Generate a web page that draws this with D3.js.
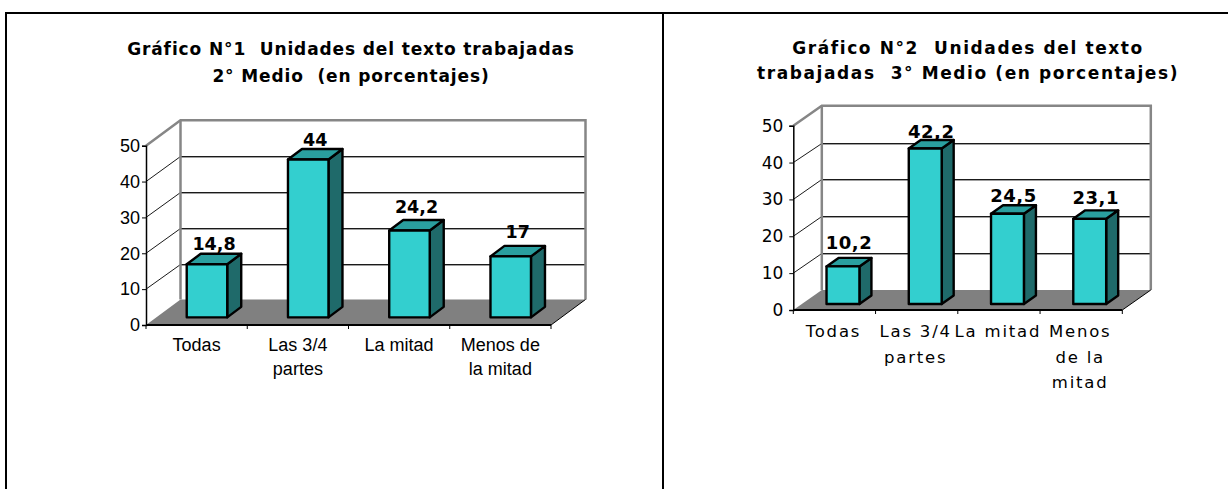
<!DOCTYPE html>
<html><head><meta charset="utf-8">
<script src="https://cdn.jsdelivr.net/npm/d3@7/dist/d3.min.js"></script>
<style>html,body{margin:0;padding:0;background:#fff}svg{display:block}</style>
</head><body>
<svg id="c" width="1228" height="489"></svg>
<script>
const categories1 = [["Todas"],["Las 3/4","partes"],["La mitad"],["Menos de","la mitad"]];
const values1 = [14.8,44,24.2,17];
const labels1 = ["14,8","44","24,2","17"];
const title1 = ["Gráfico N°1  Unidades del texto trabajadas","2° Medio  (en porcentajes)"];
const categories2 = [["Todas"],["Las 3/4","partes"],["La mitad"],["Menos","de la","mitad"]];
const values2 = [10.2,42.2,24.5,23.1];
const labels2 = ["10,2","42,2","24,5","23,1"];
const title2 = ["Gráfico N°2  Unidades del texto","trabajadas  3° Medio (en porcentajes)"];
const yTicks = [0,10,20,30,40,50];

const svg = d3.select("#c");
// frame
svg.append("g").attr("stroke","#000").attr("stroke-width",2).selectAll("line").data([
 [5,13,1228,13],[6,12,6,489],[663,13,663,489]
]).join("line").attr("x1",d=>d[0]).attr("y1",d=>d[1]).attr("x2",d=>d[2]).attr("y2",d=>d[3]);

function chart(o){
  const g = svg.append("g");
  const x = d3.scaleBand().domain(d3.range(o.values.length)).range([o.x0,o.x1]);
  const y = d3.scaleLinear().domain([0,50]).range([o.y0,o.y50]);
  const dx=o.dx, dy=o.dy;
  const poly=(pts,fill)=>g.append("polygon").attr("points",pts.map(p=>p.join(",")).join(" ")).attr("fill",fill);
  // floor
  poly([[o.x0,o.y0],[o.x1,o.y0],[o.x1+dx,o.y0-dy],[o.x0+dx,o.y0-dy]],"#808080");
  // gridlines
  const grid=[10,20,30,40];
  g.append("g").selectAll("line").data(grid).join("line")
    .attr("stroke","#a0a0a0").attr("stroke-width",1)
    .attr("x1",o.x0+dx).attr("x2",o.x1+dx).attr("y1",v=>Math.round(y(v)-dy)+1.5).attr("y2",v=>Math.round(y(v)-dy)+1.5);
  g.append("g").selectAll("path").data(grid).join("path")
    .attr("fill","none").attr("stroke","#1a1a1a").attr("stroke-width",1)
    .attr("d",v=>`M${o.x0},${y(v)}L${o.x0+dx},${Math.round(y(v)-dy)+.5}L${o.x1+dx},${Math.round(y(v)-dy)+.5}`);
  // wall edges
  g.append("path").attr("fill","none").attr("stroke","#868686").attr("stroke-width",2.5)
    .attr("d",`M${o.x0},${y(50)}L${o.x0+dx},${y(50)-dy}L${o.x1+dx},${y(50)-dy}L${o.x1+dx},${o.y0-dy}`);
  g.append("path").attr("fill","none").attr("stroke","#868686").attr("stroke-width",2.5)
    .attr("d",`M${o.x0+dx},${y(50)-dy}V${o.y0-dy}`);
  g.append("path").attr("fill","none").attr("stroke","#000").attr("stroke-width",1)
    .attr("d",`M${o.x1},${o.y0}L${o.x1+dx},${o.y0-dy}`);
  // axes
  const ax=g.append("g").attr("transform",`translate(${o.x0},0)`)
    .call(d3.axisLeft(y).tickValues(yTicks).tickSize(4).tickPadding(o.tickPad));
  ax.selectAll("text").attr("font-family",o.font).attr("font-size",o.axisSize).attr("fill","#000");
  ax.selectAll("line,path").attr("stroke","#000");
  ax.select("path").attr("stroke-width",1.5);
  const ticks=[...x.domain().map(i=>x(i)),o.x1];
  g.append("path").attr("stroke","#000").attr("stroke-width",2).attr("d",`M${o.x0},${o.y0}H${o.x1}`);
  g.append("g").selectAll("line").data(ticks).join("line").attr("stroke","#000")
    .attr("x1",d=>d).attr("x2",d=>d).attr("y1",o.y0).attr("y2",o.y0+4);
  // bars
  const bw=x.bandwidth()*o.barFrac, shiftX=dx*o.depthPos, shiftY=dy*o.depthPos;
  o.values.forEach((v,i)=>{
    const l=x(i)+x.bandwidth()/2-bw/2+shiftX, r=l+bw, b=o.y0-shiftY, t=y(v)-shiftY;
    const bar=g.append("g").attr("stroke","#000").attr("stroke-width",o.barStroke).attr("stroke-linejoin","round");
    const p=(pts,fill)=>bar.append("polygon").attr("points",pts.map(q=>q.join(",")).join(" ")).attr("fill",fill);
    p([[r,b],[r+o.bdx,b-o.bdy],[r+o.bdx,t-o.bdy],[r,t]],"#1f6a6a");
    p([[l,t],[r,t],[r+o.bdx,t-o.bdy],[l+o.bdx,t-o.bdy]],"#2a9f9f");
    p([[l,b],[r,b],[r,t],[l,t]],"#33cfcf");
    g.append("text").attr("x",(l+r)/2+o.bdx/2).attr("y",t-o.bdy-o.lblGaps[i]).attr("text-anchor","middle")
      .attr("font-family","'DejaVu Sans'").attr("font-weight","bold").attr("font-size",o.lblSize).attr("letter-spacing",o.lblLS).attr("fill","#000").text(o.labels[i]);
  });
  // category labels
  o.cats.forEach((ls,i)=>ls.forEach((s,j)=>{
    g.append("text").attr("x",x(i)+x.bandwidth()/2+o.catDx).attr("y",o.y0+o.catY+j*o.catLH).attr("text-anchor","middle")
     .attr("font-family",o.font).attr("font-size",o.catSize).attr("letter-spacing",o.catLS).attr("fill","#000").text(s);
  }));
  // title
  o.title.forEach((s,j)=>{
    g.append("text").attr("x",o.titleX).attr("y",o.titleY+j*o.titleLH).attr("text-anchor","middle")
     .style("white-space","pre").attr("font-family","'DejaVu Sans'").attr("font-weight","bold").attr("font-size",o.titleSize).attr("letter-spacing",o.titleLS).attr("fill","#000").text(s);
  });
}
chart({values:values1,labels:labels1,cats:categories1,title:title1,x0:146,x1:551,y0:325,y50:145.7,dx:34.5,dy:25.5,
  barFrac:.4,depthPos:.3,bdx:14,bdy:10.5,barStroke:2.4,font:"'Liberation Sans'",axisSize:18,tickPad:2,catSize:18,catLS:0,catDx:0,catY:26,catLH:24,
  lblSize:17.5,lblLS:0,lblGaps:[3.5,3,7,8],titleX:351,titleY:55,titleLH:27,titleSize:17,titleLS:.88});
chart({values:values2,labels:labels2,cats:categories2,title:title2,x0:793.3,x1:1122.3,y0:310,y50:125.7,dx:28.5,dy:20,
  barFrac:.4,depthPos:.3,bdx:12,bdy:8.5,barStroke:2.4,font:"'DejaVu Sans'",axisSize:17,tickPad:6,catSize:16.5,catLS:1.8,catDx:-1,catY:27,catLH:25.5,
  lblSize:18,lblLS:.5,lblGaps:[9,2,3,6],titleX:968,titleY:54,titleLH:25,titleSize:17,titleLS:1.6});
</script>
</body></html>
